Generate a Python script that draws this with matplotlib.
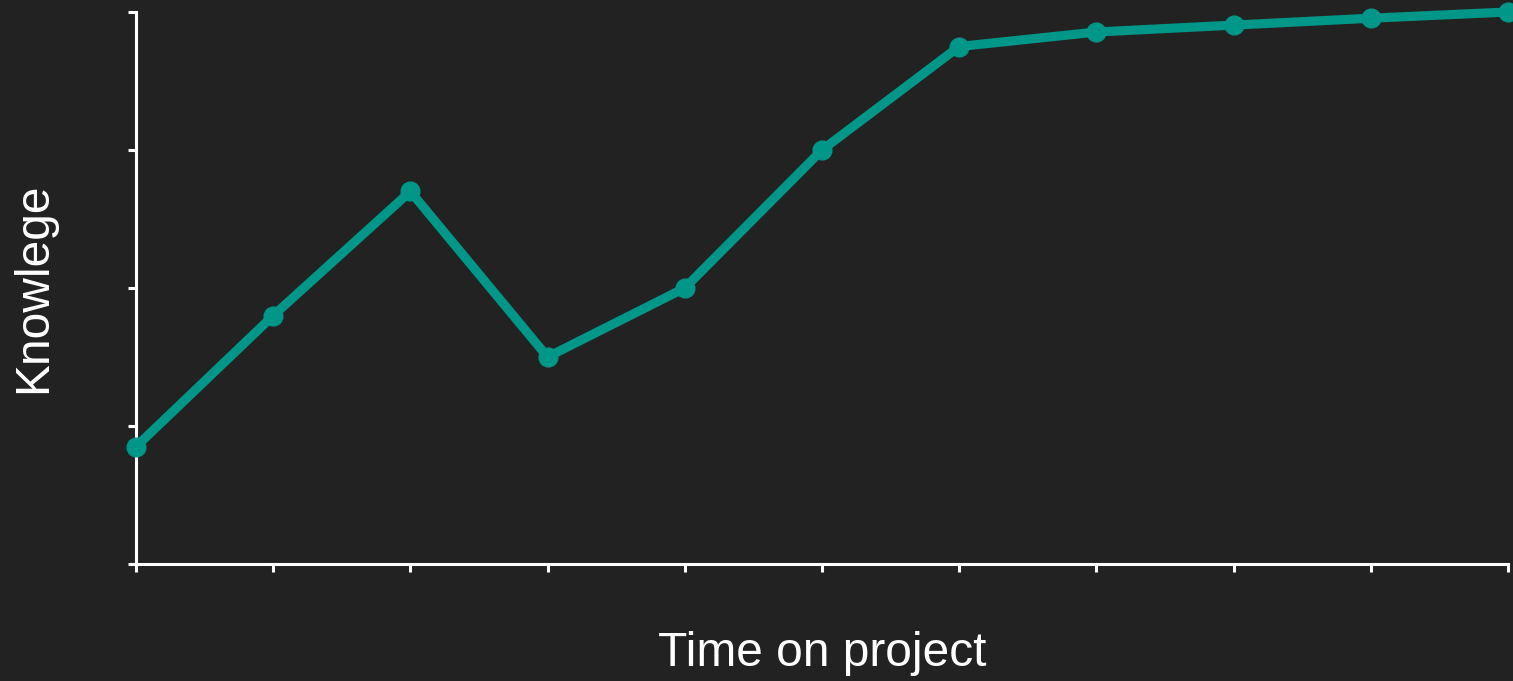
import matplotlib
matplotlib.use("Agg")
import matplotlib.pyplot as plt

x_vals = [0, 1, 2, 3, 4, 5, 6, 7, 8, 9, 10]
knowledge = [0.85, 1.8, 2.7, 1.5, 2.0, 3.0, 3.75, 3.855, 3.905, 3.955, 4.0]
y_ticks = [0, 1, 2, 3, 4]

bg = "#222222"
teal = "#009688"

fig = plt.figure(figsize=(15.13, 6.81), dpi=100, facecolor=bg)
ax = fig.add_axes([136/1513, (681-564)/681, (1508-136)/1513, (564-12)/681])
ax.set_facecolor(bg)

ax.plot(x_vals, knowledge, color=teal, lw=6.6, marker="o", ms=13.5,
        clip_on=False, zorder=3)

ax.set_xlim(0, 10)
ax.set_ylim(0, 4)
ax.set_xticks(x_vals)
ax.set_yticks(y_ticks)
ax.set_xticklabels([])
ax.set_yticklabels([])
for s in ["top", "right"]:
    ax.spines[s].set_visible(False)
for s in ["left", "bottom"]:
    ax.spines[s].set_color("white")
    ax.spines[s].set_linewidth(2.2)
ax.tick_params(colors="white", width=2.2, length=6, direction="out")

ax.set_xlabel("Time on project", color="white", fontsize=34.5,
              family="Liberation Sans", labelpad=39)
ax.set_ylabel("Knowlege", color="white", fontsize=34.5,
              family="Liberation Sans", labelpad=48)

fig.savefig("out.png", dpi=100, facecolor=bg)
